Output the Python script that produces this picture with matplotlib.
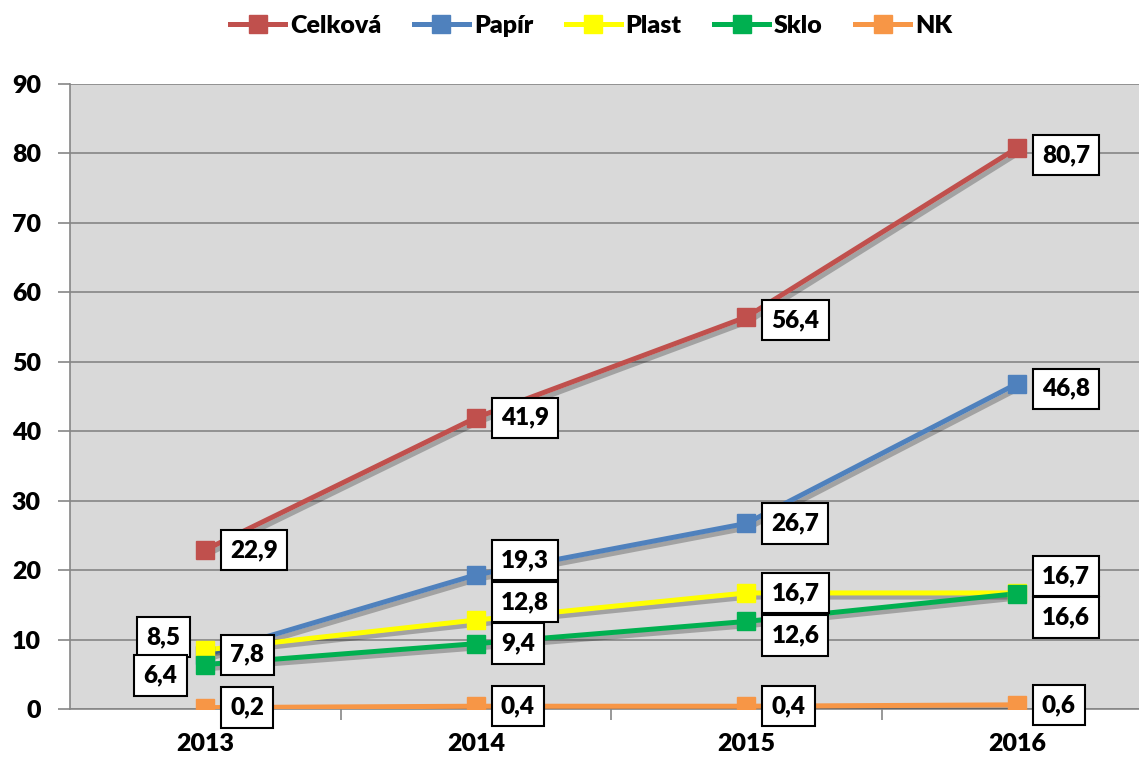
import matplotlib
matplotlib.use("Agg")
import matplotlib.pyplot as plt
import matplotlib.patheffects as pe
from matplotlib.lines import Line2D
from matplotlib.ticker import MultipleLocator, FixedLocator

years = ["2013", "2014", "2015", "2016"]
series_names = ["Celková", "Papír", "Plast", "Sklo", "NK"]
celkova = [22.9, 41.9, 56.4, 80.7]
papir = [7.8, 19.3, 26.7, 46.8]
plast = [8.5, 12.8, 16.7, 16.7]
sklo = [6.4, 9.4, 12.6, 16.6]
nk = [0.2, 0.4, 0.4, 0.6]
series_values = [celkova, papir, plast, sklo, nk]
colors = ["#C0504D", "#4F81BD", "#FFFF00", "#00B050", "#F79646"]

# label layout (pixel offsets from marker: dx, dy, horizontal alignment)
label_layout = [
    [(25, 0, "left"), (25, 0, "left"), (25, -3, "left"), (25, -7, "left")],
    [(25, 0, "left"), (25, 15, "left"), (25, 0, "left"), (25, -5, "left")],
    [(-25, 13, "right"), (25, 18, "left"), (25, 0, "left"), (25, 17, "left")],
    [(-28, -11, "right"), (25, 0, "left"), (25, -14, "left"), (25, -24, "left")],
    [(25, 0, "left"), (25, 0, "left"), (25, 0, "left"), (25, 0, "left")],
]

FONT = "Lato"
plt.rcParams["font.family"] = [FONT, "DejaVu Sans"]
plt.rcParams["font.weight"] = "heavy"
W = "heavy"

fig = plt.figure(figsize=(11.39, 7.60), dpi=100)
ax = fig.add_axes([0.0615, 0.0671, 0.950, 0.823])
ax.set_facecolor("#D9D9D9")

x = list(range(len(years)))
handles = []
for name, vals, col in zip(series_names, series_values, colors):
    ax.plot(x, vals, color=col, lw=3.6, solid_capstyle="butt", zorder=3,
            path_effects=[pe.SimpleLineShadow(offset=(2, -3), alpha=0.25, rho=0.3),
                          pe.Normal()])
    ax.plot(x, vals, ls="none", marker="s", markersize=13, color=col,
            markeredgecolor=col, zorder=4)
    handles.append(Line2D([], [], color=col, lw=3.6, marker="s", markersize=13,
                          markeredgecolor=col, label=name))

for vals, layout in zip(series_values, label_layout):
    for xi, v, (dx, dy, ha) in zip(x, vals, layout):
        ax.annotate(f"{v:.1f}".replace(".", ","), (xi, v), xytext=(dx, dy),
                    textcoords="offset pixels", ha=ha, va="center",
                    fontsize=17.5, fontweight=W, color="black", zorder=5,
                    bbox=dict(boxstyle="square,pad=0.38", fc="white", ec="black", lw=1.5))

ax.set_xlim(-0.5, 3.5)
ax.set_ylim(0, 90)
ax.yaxis.set_major_locator(MultipleLocator(10))
ax.set_xticks(x)
ax.set_xticklabels(years)
ax.xaxis.set_minor_locator(FixedLocator([0.5, 1.5, 2.5]))
ax.tick_params(axis="x", which="major", length=0, pad=17, labelsize=18)
ax.tick_params(axis="x", which="minor", length=8, color="#868686", width=1.2, direction="out")
ax.tick_params(axis="y", length=9, color="#868686", width=1.2, labelsize=18, pad=12)
for lab in ax.get_xticklabels() + ax.get_yticklabels():
    lab.set_fontweight(W)
ax.grid(axis="y", color="#868686", lw=1.2, zorder=0)
ax.set_axisbelow(True)
for s in ["top", "right"]:
    ax.spines[s].set_visible(False)
for s in ["left", "bottom"]:
    ax.spines[s].set_color("#868686")
    ax.spines[s].set_linewidth(1.2)

leg = fig.legend(handles=handles, loc="center", bbox_to_anchor=(0.519, 0.966), ncol=5,
                 frameon=False, prop={"family": FONT, "weight": W, "size": 18},
                 handlelength=2.2, handletextpad=0.2, columnspacing=1.3)

fig.savefig("out.png", dpi=100)
